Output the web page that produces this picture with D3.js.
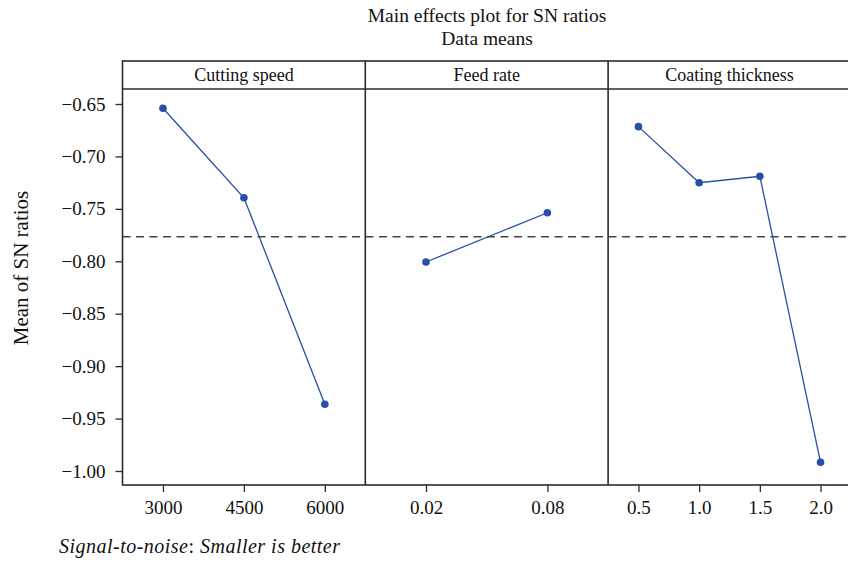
<!DOCTYPE html>
<html>
<head>
<meta charset="utf-8">
<script src="https://cdn.jsdelivr.net/npm/d3@7"></script>
<style>
  html, body { margin: 0; padding: 0; background: #fff; }
  svg { display: block; }
  svg text { font-family: "Liberation Serif", "Times New Roman", serif !important; }
</style>
</head>
<body>
<svg id="chart" width="848" height="565"></svg>
<script>
// ---- data ----
const factorNames = ["Cutting speed", "Feed rate", "Coating thickness"];
const speedLevels = ["3000", "4500", "6000"];
const speedSN = [-0.6541, -0.7394, -0.9364];
const feedLevels = ["0.02", "0.08"];
const feedSN = [-0.8007, -0.7537];
const coatLevels = ["0.5", "1.0", "1.5", "2.0"];
const coatSN = [-0.6716, -0.7251, -0.7189, -0.9917];
const overallMean = -0.7767;
const yTicks = [-0.65, -0.70, -0.75, -0.80, -0.85, -0.90, -0.95, -1.00];

const panels = [
  { name: factorNames[0], levels: speedLevels, values: speedSN },
  { name: factorNames[1], levels: feedLevels, values: feedSN },
  { name: factorNames[2], levels: coatLevels, values: coatSN }
];

// ---- layout ----
const svg = d3.select("#chart");
const left = 122.5, panelW = 242.8, stripTop = 61, plotTop = 89, plotBottom = 485;
const frameColor = "#2b2b2b";
const blue = "#2650a6";

const y = d3.scaleLinear().domain([-1.01335, -0.6357]).range([plotBottom, plotTop]);

// titles
svg.append("text").attr("x", 487).attr("y", 22).attr("text-anchor", "middle")
  .attr("font-size", 19.5).attr("fill", "#111").text("Main effects plot for SN ratios");
svg.append("text").attr("x", 487).attr("y", 45).attr("text-anchor", "middle")
  .attr("font-size", 19.5).attr("fill", "#111").text("Data means");

// y axis
const yAxis = d3.axisLeft(y).tickValues(yTicks).tickFormat(d3.format(".2f"))
  .tickSize(7).tickPadding(10);
const gy = svg.append("g").attr("transform", `translate(${left},0)`).call(yAxis);
gy.select(".domain").remove();
gy.selectAll(".tick line").attr("stroke", frameColor).attr("stroke-width", 1.3);
gy.selectAll(".tick text").attr("font-size", 19).attr("fill", "#111");

svg.append("text")
  .attr("transform", `translate(28,268) rotate(-90)`)
  .attr("text-anchor", "middle").attr("font-size", 21).attr("fill", "#111")
  .text("Mean of SN ratios");

// panels
panels.forEach((p, i) => {
  const x0 = left + i * panelW;
  const x = d3.scalePoint().domain(p.levels).range([x0, x0 + panelW]).padding(0.5);
  const g = svg.append("g");

  // x axis
  const xAxis = d3.axisBottom(x).tickSize(7).tickPadding(9);
  const gx = svg.append("g").attr("transform", `translate(0,${plotBottom})`).call(xAxis);
  gx.select(".domain").remove();
  gx.selectAll(".tick line").attr("stroke", frameColor).attr("stroke-width", 1.3);
  gx.selectAll(".tick text").attr("font-size", 19).attr("fill", "#111");

  // strip label
  svg.append("text").attr("x", x0 + panelW / 2).attr("y", 81)
    .attr("text-anchor", "middle").attr("font-size", 18).attr("fill", "#111")
    .text(p.name);

  // line + points
  const pts = p.levels.map((l, k) => [x(l), y(p.values[k])]);
  g.append("path").attr("d", d3.line()(pts)).attr("fill", "none")
    .attr("stroke", blue).attr("stroke-width", 1.3);
  g.selectAll("circle").data(pts).enter().append("circle")
    .attr("cx", d => d[0]).attr("cy", d => d[1]).attr("r", 3.8).attr("fill", blue);
});

// mean reference line
svg.append("line").attr("x1", left).attr("x2", left + 3 * panelW)
  .attr("y1", y(overallMean)).attr("y2", y(overallMean))
  .attr("stroke", "#444").attr("stroke-width", 1.5).attr("stroke-dasharray", "8,5.5");

// frame
const fr = svg.append("g").attr("fill", "none").attr("stroke", frameColor).attr("stroke-width", 1.6);
fr.append("rect").attr("x", left).attr("y", stripTop).attr("width", 3 * panelW).attr("height", plotBottom - stripTop);
fr.append("line").attr("x1", left).attr("x2", left + 3 * panelW).attr("y1", plotTop).attr("y2", plotTop);
[1, 2].forEach(i => {
  fr.append("line").attr("x1", left + i * panelW).attr("x2", left + i * panelW)
    .attr("y1", stripTop).attr("y2", plotBottom);
});

// footnote
const foot = svg.append("text").attr("x", 59).attr("y", 553).attr("font-size", 20)
  .attr("fill", "#111").attr("font-style", "italic")
  .attr("textLength", 281).attr("lengthAdjust", "spacing");
foot.append("tspan").text("Signal-to-noise");
foot.append("tspan").attr("font-style", "normal").text(":");
foot.append("tspan").text(" Smaller is better");
</script>
</body>
</html>
